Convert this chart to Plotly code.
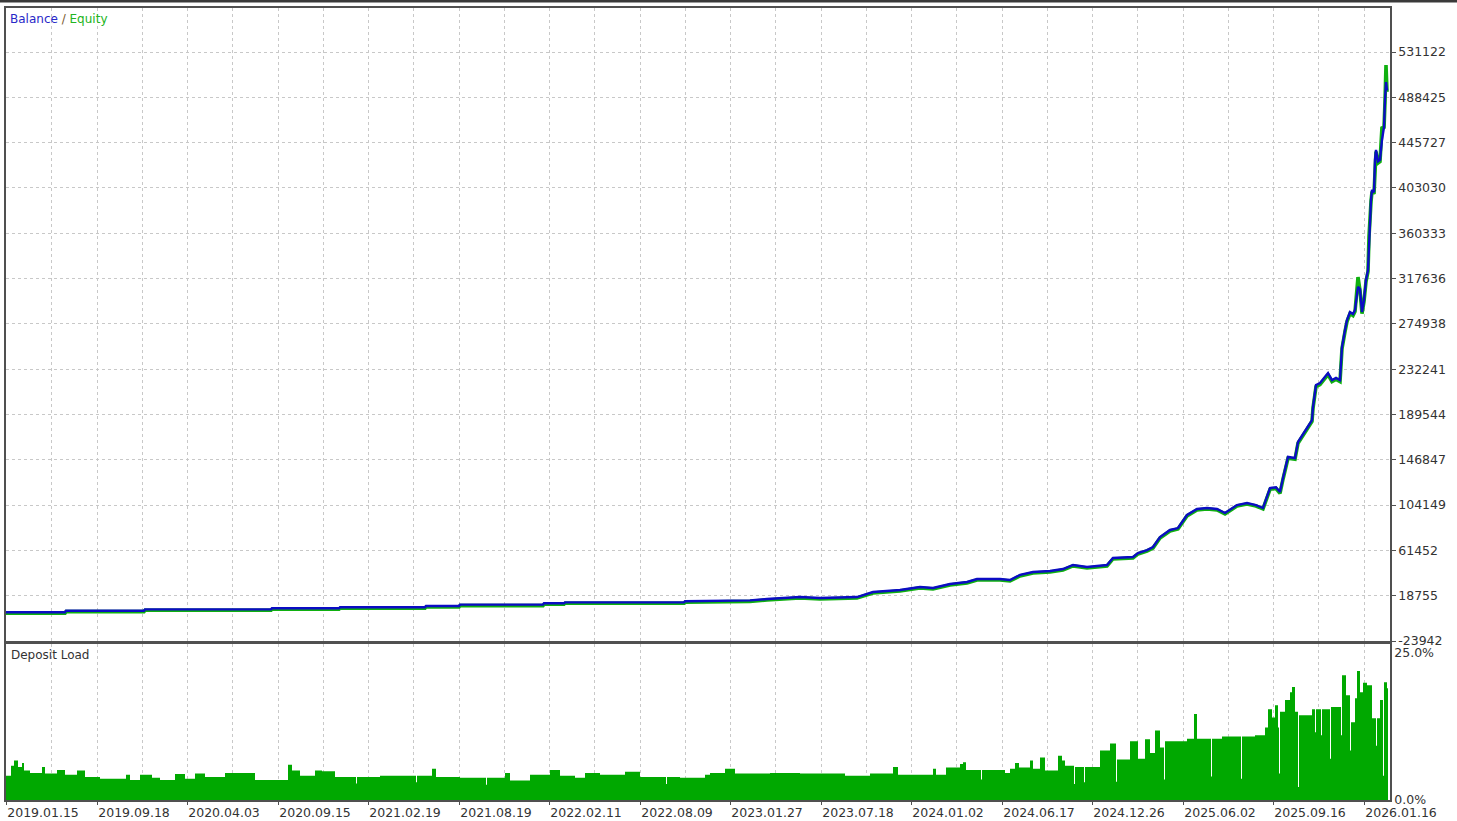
import plotly.graph_objects as go

# ---------------- data ----------------
# x axis = trade number; the date labels sit at these trade numbers
x_tick_trades = [0, 91, 181, 272, 362, 453, 543, 634, 724, 815, 905, 996, 1086, 1177, 1267, 1358]
x_tick_labels = ["2019.01.15", "2019.09.18", "2020.04.03", "2020.09.15", "2021.02.19",
                 "2021.08.19", "2022.02.11", "2022.08.09", "2023.01.27", "2023.07.18",
                 "2024.01.02", "2024.06.17", "2024.12.26", "2025.06.02", "2025.09.16",
                 "2026.01.16"]
grid_trades = [45, 91, 136, 181, 226, 272, 317, 362, 407, 453, 498, 543, 588, 634, 679,
               724, 769, 815, 860, 905, 950, 996, 1041, 1086, 1131, 1177, 1222, 1267, 1312, 1358]

balance_ticks = [-23942, 18755, 61452, 104149, 146847, 189544, 232241, 274938,
                 317636, 360333, 403030, 445727, 488425, 531122]

trades = [0, 59, 60, 138, 139, 265, 266, 299, 300, 302, 333, 334, 408, 409, 411, 419, 420,
          453, 454, 537, 538, 558, 559, 618, 619, 621, 678, 679,
          694, 744, 761, 794, 814, 851, 867, 880, 894, 914, 927, 944, 961, 971, 994, 1004, 1014,
          1027, 1044, 1057, 1067, 1081, 1101, 1107, 1127, 1132, 1141, 1147, 1154, 1164, 1172,
          1181, 1191, 1201, 1211, 1219, 1231, 1241, 1250, 1257, 1264, 1270, 1274, 1277, 1282,
          1289, 1292, 1301, 1306, 1307, 1310, 1314, 1318, 1322, 1326, 1330, 1334, 1336, 1339,
          1341, 1344, 1347, 1349, 1352, 1354, 1356, 1358, 1360, 1362, 1363, 1365, 1366, 1368,
          1369, 1370, 1372, 1374, 1376, 1378, 1379, 1380, 1381]

balance = [3100, 3100, 4600, 4600, 5900, 5900, 6900, 6900, 6400, 6900, 6900, 7800, 7800, 8300,
           7800, 7800, 9000, 9000, 10300, 10300, 11600, 11600, 12500, 12500, 12900, 12500,
           12500, 13500,
           13800, 14300, 15600, 17500, 16600, 17500, 22200, 23000, 24100,
           27000, 26000, 29800, 31700, 34500, 34500, 33500, 38300, 41100, 42000, 43900, 47700,
           45800, 47700, 54300, 55200, 59000, 61800, 64600, 74000, 80700, 82500, 94800, 100500,
           101400, 100500, 96700, 104200, 106100, 104200, 101400, 120200, 121000, 116500,
           129700, 149500, 148500, 163600, 176800, 184300, 196600, 217300, 219200, 224000,
           228600, 222000, 224000, 222000, 253100, 269100, 278600, 286100, 284200, 288000,
           309700, 307800, 286100, 297400, 316300, 325700, 354000, 391700, 401100, 399000,
           429400, 438800, 428000, 429400, 448200, 460500, 485900, 502800, 495000]

equity = [2200, 2200, 3700, 3700, 5000, 5000, 6000, 6000, 5500, 6000, 6000, 6900, 6900, 7400,
          6900, 6900, 8100, 8100, 9400, 9400, 10700, 10700, 11600, 11600, 12000, 11600,
          11600, 12600,
          12900, 13400, 14700, 16600, 15700, 16600, 21300, 22100, 23200,
          26100, 25100, 28900, 30800, 33600, 33600, 32600, 37400, 40200, 41100, 43000, 46800,
          44900, 46800, 53400, 54300, 58100, 60900, 63700, 73100, 79800, 81600, 93900, 99600,
          100500, 99600, 95800, 103300, 105200, 103300, 100500, 119000, 119800, 115300,
          128500, 148300, 147300, 162400, 175600, 183100, 195400, 215800, 217700, 222500,
          227100, 220500, 222500, 220500, 251600, 267600, 277100, 284600, 282700, 286500,
          319000, 306300, 284600, 295900, 314800, 324200, 357000, 390200, 399600, 397500,
          427900, 437300, 426500, 427900, 460500, 459000, 484400, 518900, 493500]

load_trades = [0, 5, 8, 12, 16, 18, 24, 36, 39, 51, 59, 71, 79, 94, 120, 124, 134, 146, 154,
               169, 179, 189, 199, 219, 249, 282, 286, 294, 309, 316, 329, 350, 351, 374, 410,
               411, 426, 430, 454, 480, 481, 499, 504, 524, 544, 554, 569, 579, 594, 619, 634,
               660, 661, 674, 699, 704, 719, 729, 764, 794, 839, 864, 887, 892, 927, 930, 940,
               954, 957, 960, 975, 976, 999, 1004, 1009, 1013, 1024, 1027, 1034, 1039, 1052,
               1056, 1059, 1068, 1069, 1078, 1079, 1094, 1104, 1110, 1111, 1124, 1132, 1139,
               1144, 1149, 1154, 1158, 1159, 1181, 1188, 1191, 1205, 1206, 1216, 1235, 1236,
               1249, 1259, 1262, 1266, 1269, 1272, 1273, 1274, 1279, 1284, 1286, 1289, 1292,
               1293, 1306, 1309, 1310, 1315, 1316, 1324, 1325, 1335, 1336, 1340, 1344, 1345,
               1349, 1351, 1354, 1357, 1361, 1366, 1370, 1371, 1374, 1377, 1378, 1381, 1382]

load_pct = [4.1, 5.8, 6.7, 5.6, 6.3, 5.0, 4.6, 5.6, 4.5, 5.1, 4.3, 5.0, 3.9, 3.6, 4.3, 3.4, 4.3,
            3.8, 3.4, 4.4, 3.6, 4.5, 3.9, 4.6, 3.4, 6.0, 5.0, 4.1, 5.0, 4.9, 3.9, 2.8, 3.9, 4.1,
            3.0, 4.1, 5.3, 3.9, 3.8, 2.6, 3.8, 4.6, 3.3, 4.3, 5.1, 4.1, 3.8, 4.6, 4.3, 4.8, 3.9,
            2.7, 3.9, 3.8, 4.3, 4.6, 5.3, 4.5, 4.6, 4.5, 4.1, 4.5, 5.6, 4.3, 5.3, 4.3, 5.5,
            6.1, 6.4, 5.1, 3.5, 5.1, 4.6, 5.3, 6.3, 5.5, 6.7, 5.3, 7.2, 5.0, 7.5,
            6.7, 5.8, 2.7, 5.6, 3.0, 5.6, 8.4, 9.6, 3.1, 6.9, 10.0, 7.0, 10.3,
            8.0, 11.8, 8.9, 3.5, 10.0, 10.4, 14.6, 10.4, 4.0, 10.4, 10.8, 3.6, 10.8,
            11.0, 12.3, 15.4, 14.0, 16.1, 12.3, 4.5, 15.0, 17.0, 18.3, 19.2, 15.0, 2.2,
            14.4, 15.4, 11.5, 15.4, 11.0, 15.4, 7.0, 15.8, 11.0, 21.2, 17.8, 8.4, 13.2,
            17.3, 21.9, 18.3, 19.9, 19.5, 13.9, 9.2, 13.9, 17.0, 4.1, 20.0, 19.0, 19.0]

# ---------------- styling ----------------
FONT = "DejaVu Sans"
TXT = "#333333"
GRID = "#c8c8c8"
FRAME = "#505050"
BLUE = "#0c0cc4"
GREEN_EQ = "#10b010"
GREEN_LOAD = "#00a800"

fig = go.Figure()

fig.add_trace(go.Scatter(x=trades, y=equity, mode="lines", name="Equity",
                         line=dict(color=GREEN_EQ, width=3.6),
                         xaxis="x", yaxis="y", hoverinfo="skip"))
fig.add_trace(go.Scatter(x=trades, y=balance, mode="lines", name="Balance",
                         line=dict(color=BLUE, width=2.4),
                         xaxis="x", yaxis="y"))
fig.add_trace(go.Scatter(x=load_trades, y=load_pct, mode="lines", name="Deposit Load",
                         line=dict(color=GREEN_LOAD, width=0, shape="hv"),
                         fill="tozeroy", fillcolor=GREEN_LOAD,
                         xaxis="x2", yaxis="y2"))

x_common = dict(range=[0, 1384], showline=True, mirror=True, linecolor=FRAME, linewidth=1.5,
                zeroline=False, tickmode="array", tickvals=x_tick_trades, automargin=False,
                showgrid=True, gridcolor=GRID, griddash="3px,3px", gridwidth=1,
                minor=dict(tickmode="array", tickvals=grid_trades, showgrid=True,
                           gridcolor=GRID, griddash="3px,3px", gridwidth=1))

top_dom = (800 - 641) / 792
bot_dom = (800 - 644) / 792

fig.update_layout(
    width=1457, height=821,
    margin=dict(l=6, r=67, t=8, b=21),
    paper_bgcolor="white", plot_bgcolor="white",
    showlegend=False,
    font=dict(family=FONT, size=12.5, color=TXT),
    xaxis=dict(**x_common, anchor="y", domain=[0, 1], showticklabels=False, ticks=""),
    xaxis2=dict(**x_common, anchor="y2", domain=[0, 1], matches="x",
                ticktext=x_tick_labels, ticks="outside", ticklen=3, tickcolor=FRAME,
                ticklabelposition="outside right",
                tickfont=dict(family=FONT, size=12.5, color=TXT)),
    yaxis=dict(domain=[top_dom, 1], side="right", anchor="x", automargin=False,
               range=[-23942, 572600], tickmode="array", tickvals=balance_ticks,
               ticktext=[str(v) for v in balance_ticks],
               showline=True, mirror=True, linecolor=FRAME, linewidth=1.5,
               ticks="outside", ticklen=4, tickcolor=FRAME, zeroline=False,
               showgrid=True, gridcolor=GRID, griddash="3px,3px", gridwidth=1,
               tickfont=dict(family=FONT, size=12.5, color=TXT)),
    yaxis2=dict(domain=[0, bot_dom], side="right", anchor="x2", automargin=False,
                range=[0, 26.5], tickmode="array", tickvals=[0, 25],
                ticktext=["0.0%", "25.0%"],
                showline=True, mirror=True, linecolor=FRAME, linewidth=1.5,
                ticks="", zeroline=False, showgrid=False,
                tickfont=dict(family=FONT, size=12.5, color=TXT)),
    annotations=[
        dict(xref="paper", yref="paper", x=0, y=1, xanchor="left", yanchor="top",
             xshift=2, yshift=-2, showarrow=False,
             text="<span style='color:#2828c8'>Balance</span>"
                  "<span style='color:#7a5a30'> / </span>"
                  "<span style='color:#22b422'>Equity</span>",
             font=dict(family=FONT, size=12)),
        dict(xref="paper", yref="paper", x=0, y=bot_dom, xanchor="left", yanchor="top",
             xshift=3, yshift=-2, showarrow=False, text="Deposit Load",
             font=dict(family=FONT, size=12, color=TXT)),
    ],
    shapes=[
        dict(type="rect", xref="paper", yref="paper",
             x0=-6 / 1384, x1=1 + 67 / 1384, y0=1 + 5.5 / 792, y1=1 + 8 / 792,
             fillcolor="#3a3a3a", line=dict(width=0), layer="above"),
    ],
)

fig.write_html("out.html", config={"displayModeBar": False},
               post_script="document.body.style.margin='0px';")
